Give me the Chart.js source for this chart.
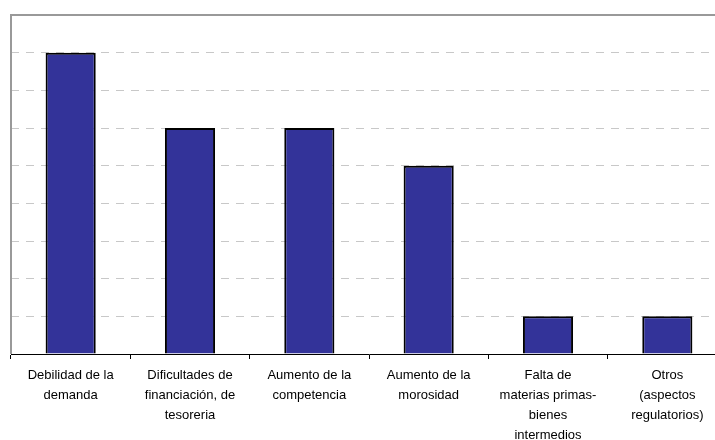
<!DOCTYPE html>
<html>
<head>
<meta charset="utf-8">
<script src="https://cdn.jsdelivr.net/npm/chart.js@4"></script>
<style>
  html, body { margin: 0; padding: 0; overflow: hidden; background: #fff; }
  #wrap { width: 740px; height: 440px; position: relative; }
</style>
</head>
<body>
<div id="wrap"><canvas id="c"></canvas></div>
<script>
const categories = [
  ["Debilidad de la", "demanda"],
  ["Dificultades de", "financiación, de", "tesoreria"],
  ["Aumento de la", "competencia"],
  ["Aumento de la", "morosidad"],
  ["Falta de", "materias primas-", "bienes", "intermedios"],
  ["Otros", "(aspectos", "regulatorios)"]
];
const values = [8, 6, 6, 5, 1, 1];
const yMin = 0, yMax = 9, yStep = 1;

const topBorder = {
  id: 'topBorder',
  afterDraw(chart) {
    const a = chart.chartArea, ctx = chart.ctx;
    ctx.save();
    ctx.strokeStyle = '#999999';
    ctx.lineWidth = 2;
    ctx.beginPath();
    ctx.moveTo(a.left - 1, a.top);
    ctx.lineTo(a.right + 5, a.top);
    ctx.moveTo(a.left, a.top);
    ctx.lineTo(a.left, a.bottom);
    ctx.stroke();
    ctx.restore();
  }
};

new Chart(document.getElementById('c'), {
  type: 'bar',
  data: {
    labels: categories,
    datasets: [{
      data: values,
      backgroundColor: '#333399',
      borderColor: '#000000',
      borderWidth: 2,
      borderSkipped: 'start',
      categoryPercentage: 1,
      barPercentage: 0.42
    }]
  },
  plugins: [topBorder],
  options: {
    responsive: true,
    maintainAspectRatio: false,
    animation: false,
    layout: { padding: { left: 11, top: 15, right: 13, bottom: 0 } },
    plugins: { legend: { display: false }, tooltip: { enabled: false } },
    scales: {
      x: {
        offset: true,
        grid: { offset: true, drawOnChartArea: false, drawTicks: true, tickLength: 5, color: '#000000' },
        border: { color: '#000000', width: 1 },
        ticks: {
          color: '#000000',
          font: { family: 'Liberation Sans, Arial, sans-serif', size: 13, lineHeight: 1.52 },
          padding: 7,
          maxRotation: 0,
          autoSkip: false
        },
        afterFit(s) { s.height = 86; }
      },
      y: {
        min: yMin, max: yMax,
        ticks: { display: false, stepSize: yStep },
        grid: { color: '#c8c8c8', drawTicks: false, tickLength: 0, lineWidth: 1 },
        border: { display: false, dash: [8, 7] },
        afterFit(s) { s.width = 0; }
      }
    }
  }
});
</script>
</body>
</html>
